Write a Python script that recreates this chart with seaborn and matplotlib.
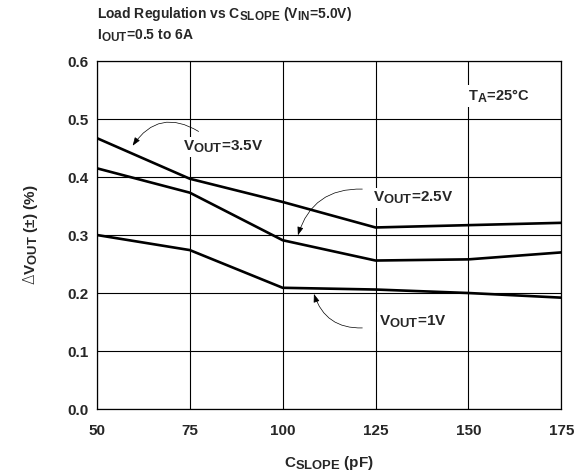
import pandas as pd
import seaborn as sns
import matplotlib
matplotlib.use("Agg")
import matplotlib.pyplot as plt
import matplotlib._mathtext as mtext

# data
c_slope = [50, 75, 100, 125, 150, 175]
v_3p5 = [0.467, 0.397, 0.357, 0.313, 0.317, 0.321]
v_2p5 = [0.415, 0.373, 0.291, 0.256, 0.258, 0.270]
v_1p0 = [0.300, 0.274, 0.209, 0.206, 0.200, 0.192]
series_names = ["3.5V", "2.5V", "1V"]
x_ticks = [50, 75, 100, 125, 150, 175]
y_ticks = [0.0, 0.1, 0.2, 0.3, 0.4, 0.5, 0.6]

df = pd.DataFrame({
	"cslope": c_slope * 3,
	"dv": v_3p5 + v_2p5 + v_1p0,
	"vout": [n for n in series_names for _ in c_slope],
})

# subscripts in the datasheet are only a bit smaller than the text
mtext.SHRINK_FACTOR = 0.85

sns.set_style("white")
plt.rcParams["font.family"] = ["Liberation Sans", "DejaVu Sans"]
plt.rcParams["font.weight"] = "bold"
plt.rcParams["mathtext.fontset"] = "custom"
plt.rcParams["mathtext.rm"] = "Liberation Sans:bold"
plt.rcParams["mathtext.it"] = "Liberation Sans:bold"
plt.rcParams["mathtext.bf"] = "Liberation Sans:bold"
plt.rcParams["mathtext.sf"] = "DejaVu Sans:light"

fig = plt.figure(figsize=(5.84, 4.73), dpi=100)
ax = fig.add_axes([0.166, 0.1353, 0.795, 0.7357])

sns.lineplot(data=df, x="cslope", y="dv", hue="vout",
			 palette=["black"] * 3, linewidth=1.9, legend=False, ax=ax, zorder=3)

ax.set_xlim(50, 175)
ax.set_ylim(0, 0.6)
ax.set_xticks(x_ticks)
ax.set_yticks(y_ticks)
ax.set_yticklabels(["%.1f" % v for v in y_ticks])
ax.tick_params(axis="x", length=0, pad=11, labelsize=11)
ax.tick_params(axis="y", length=0, pad=6, labelsize=11)
ax.grid(True, color="black", linewidth=0.8)
for s in ax.spines.values():
	s.set_color("black")
	s.set_linewidth(0.9)

ax.set_xlabel(r"C$_{\mathrm{SLOPE}}$ (pF)", fontsize=11, fontweight="bold", labelpad=11)
ax.set_ylabel(r"$\mathsf{\Delta}$V$_{\mathrm{OUT}}$ (±) (%)", fontsize=11, fontweight="bold", labelpad=20)

fig.text(0.166, 0.97, r"Load Regulation vs C$_{\mathrm{SLOPE}}$ (V$_{\mathrm{IN}}$=5.0V)",
		 fontsize=10, fontweight="bold", va="center", ha="left")
fig.text(0.166, 0.925, r"I$_{\mathrm{OUT}}$=0.5 to 6A",
		 fontsize=10, fontweight="bold", va="center", ha="left")

box = dict(facecolor="white", edgecolor="none", pad=1.5)
ax.text(149.9, 0.540, r"T$_{\mathrm{A}}$=25°C", fontsize=10.5, va="center", ha="left", bbox=box, zorder=4)
ax.text(73.2, 0.452, r"V$_{\mathrm{OUT}}$=3.5V", fontsize=11, va="center", ha="left", bbox=box, zorder=4)
ax.text(124.4, 0.364, r"V$_{\mathrm{OUT}}$=2.5V", fontsize=11, va="center", ha="left", bbox=box, zorder=4)
ax.text(126.0, 0.150, r"V$_{\mathrm{OUT}}$=1V", fontsize=11, va="center", ha="left", bbox=box, zorder=4)

arrow = dict(arrowstyle="-|>,head_length=0.5,head_width=0.18", color="black", linewidth=0.5)
ax.annotate("", xy=(59.2, 0.450), xytext=(78.0, 0.476),
			arrowprops=dict(arrow, connectionstyle="arc3,rad=0.5"), zorder=5)
ax.annotate("", xy=(103.9, 0.295), xytext=(122.2, 0.379),
			arrowprops=dict(arrow, connectionstyle="arc3,rad=0.4"), zorder=5)
ax.annotate("", xy=(108.2, 0.203), xytext=(122.2, 0.140),
			arrowprops=dict(arrow, connectionstyle="arc3,rad=-0.4"), zorder=5)

fig.savefig("out.png", dpi=100)
